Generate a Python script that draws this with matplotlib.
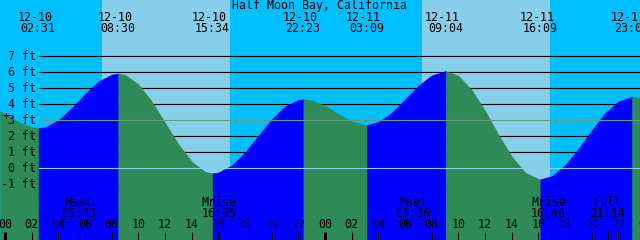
import numpy as np
import matplotlib
matplotlib.use("Agg")
import matplotlib.pyplot as plt

# tide readings, hours from 12-10 00:00, height in ft
hour_t = np.arange(0, 48)
hour_h = [3.38, 2.88, 2.55, 2.55, 2.99, 3.75, 4.64, 5.40, 5.84, 5.82,
          5.23, 4.17, 2.83, 1.49, 0.40, -0.23, -0.28, 0.16, 0.98, 2.01,
          3.04, 3.85, 4.26, 4.24, 3.89, 3.38, 2.92, 2.70, 2.87, 3.45,
          4.28, 5.14, 5.79, 6.05, 5.77, 4.88, 3.58, 2.09, 0.72, -0.27,
          -0.69, -0.51, 0.17, 1.19, 2.35, 3.42, 4.17, 4.45]
edge_t = [-0.375, 47.625]
edge_h = [3.55, 4.39]

# highs and lows
ext_date = ["12-10", "12-10", "12-10", "12-10", "12-11", "12-11", "12-11", "12-11"]
ext_time = ["02:31", "08:30", "15:34", "22:23", "03:09", "09:04", "16:09", "23:02"]
ext_t = [2.517, 8.5, 15.567, 22.383, 27.15, 33.067, 40.15, 47.033]
ext_h = [2.5, 5.9, -0.33, 4.3, 2.7, 6.05, -0.7, 4.45]

# daylight
sunrise_t = [7.275, 31.275]
sunset_t = [16.875, 40.875]

# moon events
moon_name = ["Mset", "Mrise", "Mset", "Mrise", "Full"]
moon_time = ["05:33", "16:05", "06:36", "16:46", "21:14"]
moon_t = [5.55, 16.083, 30.6, 40.767, 45.233]

levels = [7, 6, 5, 4, 3, 2, 1, 0, -1]

NIGHT = "#00BFFF"
DAY = "#87CEEB"
RISE = "#0000FF"
FALL = "#2E8B57"
FONT = dict(family="DejaVu Sans Mono", fontsize=8.4, color="black")

W, H = 640, 240
x0, x1 = -0.375, 47.625
y0, y1 = -4.5, 10.5

fig = plt.figure(figsize=(6.4, 2.4), dpi=100)
ax = fig.add_axes([0, 0, 1, 1])
ax.set_xlim(x0, x1)
ax.set_ylim(y0, y1)
ax.axis("off")


def fy(py):
    # pixel row from top -> axes fraction
    return 1 - py / H


# sky
ax.axvspan(x0, x1, color=NIGHT, lw=0, zorder=0)
for a, b in zip(sunrise_t, sunset_t):
    ax.axvspan(a, b, color=DAY, lw=0, zorder=0)

# grid lines behind the water
for lv in levels:
    if lv in (0, 3):
        continue
    ax.axhline(lv, xmin=39 / W, xmax=1, color="black", lw=0.8, zorder=1)

# water, coloured by rising / falling
t_all = np.concatenate([hour_t, ext_t, edge_t]).astype(float)
h_all = np.concatenate([hour_h, ext_h, edge_h]).astype(float)
order = np.argsort(t_all)
t_all, h_all = t_all[order], h_all[order]

bounds = [x0] + ext_t + [x1]
for a, b in zip(bounds[:-1], bounds[1:]):
    m = (t_all >= a) & (t_all <= b)
    seg_t, seg_h = t_all[m], h_all[m]
    col = RISE if seg_h[-1] > seg_h[0] else FALL
    ax.fill_between(seg_t, seg_h, y0, color=col, lw=0.4, zorder=2)

# datum and mid lines on top
ax.axhline(0, xmin=39 / W, xmax=1, color=DAY, lw=0.8, zorder=3)
ax.axhline(3, xmin=39 / W, xmax=1, color="#60A080", lw=0.8, zorder=3)

# height labels
for lv in levels:
    ax.text(36 / W, lv, f"{lv} ft", transform=ax.get_yaxis_transform(),
            ha="right", va="center", zorder=5, **FONT)
ax.text(6 / W, fy(116), "+", transform=ax.transAxes, ha="center",
        va="center", zorder=6, **FONT)

# title
ax.text(0.5, fy(6), "Half Moon Bay, California", transform=ax.transAxes,
        ha="center", va="center", zorder=5, **FONT)

# extreme labels
xt = ax.get_xaxis_transform()
for d, s, t in zip(ext_date, ext_time, ext_t):
    ax.annotate(d, (t, fy(17.5)), xycoords=xt, xytext=(-2.6, 0),
                textcoords="offset points", ha="center", va="center",
                zorder=5, **FONT)
    ax.annotate(s, (t, fy(29)), xycoords=xt, xytext=(-0.4, 0),
                textcoords="offset points", ha="center", va="center",
                zorder=5, **FONT)

# moon labels
for n, s, t in zip(moon_name, moon_time, moon_t):
    ax.text(t, fy(202), n, transform=xt, ha="center", va="center",
            zorder=5, **FONT)
    ax.text(t, fy(213.5), s, transform=xt, ha="center", va="center",
            zorder=5, **FONT)

# hour axis
for t in range(0, 49, 2):
    ax.text(t, fy(225), f"{t % 24:02d}", transform=xt, ha="center",
            va="center", zorder=5, **FONT)
    lw = 2.2 if t % 24 == 0 else 0.75
    ax.plot([t, t], [fy(232), 0], transform=xt, color="black",
            lw=lw, zorder=5, solid_capstyle="butt")
for t in moon_t:
    ax.plot([t, t], [fy(232), 0], transform=xt, color="black",
            lw=0.75, zorder=5, solid_capstyle="butt")

fig.savefig("out.png", dpi=100)
